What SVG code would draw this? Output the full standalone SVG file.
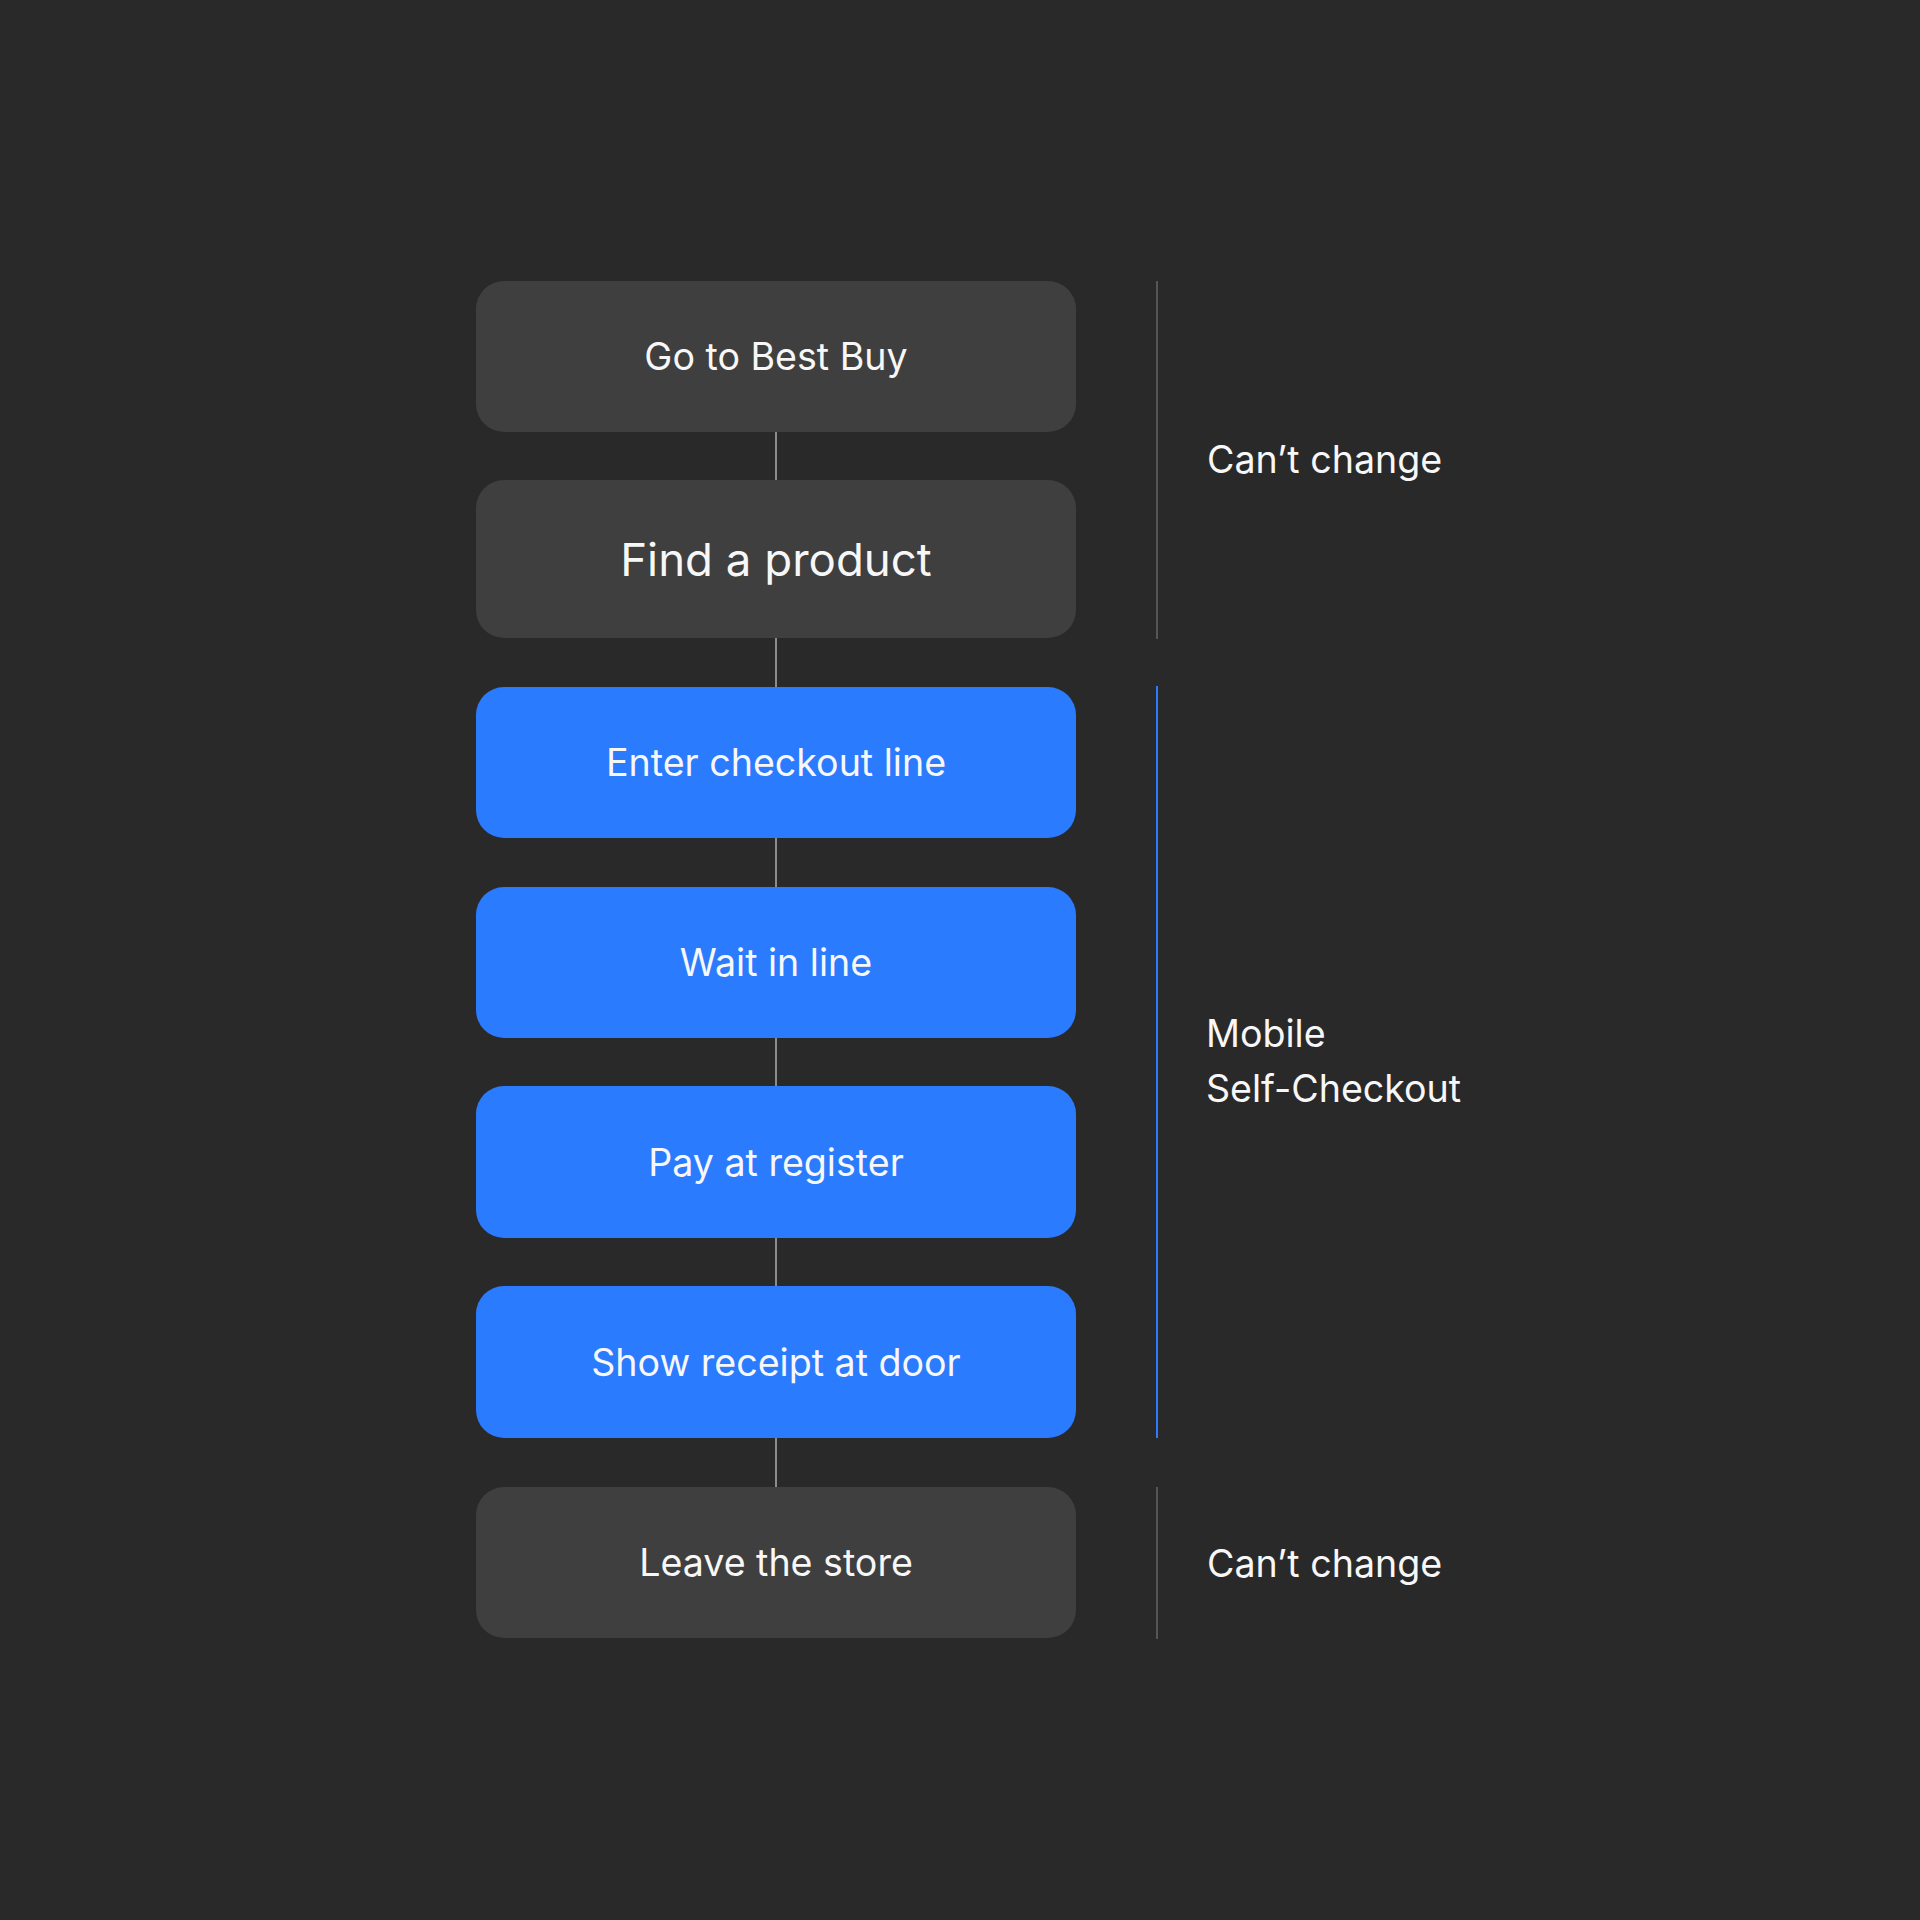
<svg xmlns="http://www.w3.org/2000/svg" width="1920" height="1920" viewBox="0 0 1920 1920">
<style>
.bg{fill:#292929}
.gray{fill:#3f3f3f}
.blue{fill:#2b7bff}
.t{font-family:Inter,"Liberation Sans",sans-serif;fill:#f7f7f7;text-anchor:middle;font-size:37.6px}
.big{font-size:45.6px}
.lab{font-family:Inter,"Liberation Sans",sans-serif;fill:#f7f7f7;font-size:37.6px}
.conn{stroke:#8c8c8c;stroke-width:2;fill:none}
.bracket{stroke:#555;stroke-width:2;fill:none}
.bracketb{stroke:#2b7bff;stroke-width:2;fill:none}
</style>
<rect class="bg" x="0" y="0" width="1920" height="1920"/>
<g id="connectors">
<line class="conn" x1="776" y1="432" x2="776" y2="480"/>
<line class="conn" x1="776" y1="638" x2="776" y2="687"/>
<line class="conn" x1="776" y1="838" x2="776" y2="887"/>
<line class="conn" x1="776" y1="1038" x2="776" y2="1086"/>
<line class="conn" x1="776" y1="1238" x2="776" y2="1286"/>
<line class="conn" x1="776" y1="1438" x2="776" y2="1487"/>
</g>
<g id="node-go">
<rect class="gray" x="476" y="281" width="600" height="151" rx="28"/>
<text class="t" x="776" y="370">Go to Best Buy</text>
</g>
<g id="node-find">
<rect class="gray" x="476" y="480" width="600" height="158" rx="28"/>
<text class="t big" x="776" y="576">Find a product</text>
</g>
<g id="node-enter">
<rect class="blue" x="476" y="687" width="600" height="151" rx="28"/>
<text class="t" x="776" y="776">Enter checkout line</text>
</g>
<g id="node-wait">
<rect class="blue" x="476" y="887" width="600" height="151" rx="28"/>
<text class="t" x="776" y="976">Wait in line</text>
</g>
<g id="node-pay">
<rect class="blue" x="476" y="1086" width="600" height="152" rx="28"/>
<text class="t" x="776" y="1176">Pay at register</text>
</g>
<g id="node-show">
<rect class="blue" x="476" y="1286" width="600" height="152" rx="28"/>
<text class="t" x="776" y="1376">Show receipt at door</text>
</g>
<g id="node-leave">
<rect class="gray" x="476" y="1487" width="600" height="151" rx="28"/>
<text class="t" x="776" y="1576">Leave the store</text>
</g>
<g id="group-top">
<line class="bracket" x1="1157" y1="281" x2="1157" y2="639"/>
<text class="lab" x="1207" y="473">Can’t change</text>
</g>
<g id="group-mobile">
<line class="bracketb" x1="1157" y1="686" x2="1157" y2="1438"/>
<text class="lab" x="1206" y="1047">Mobile</text>
<text class="lab" x="1206" y="1102">Self-Checkout</text>
</g>
<g id="group-bottom">
<line class="bracket" x1="1157" y1="1487" x2="1157" y2="1639"/>
<text class="lab" x="1207" y="1577">Can’t change</text>
</g>
</svg>
